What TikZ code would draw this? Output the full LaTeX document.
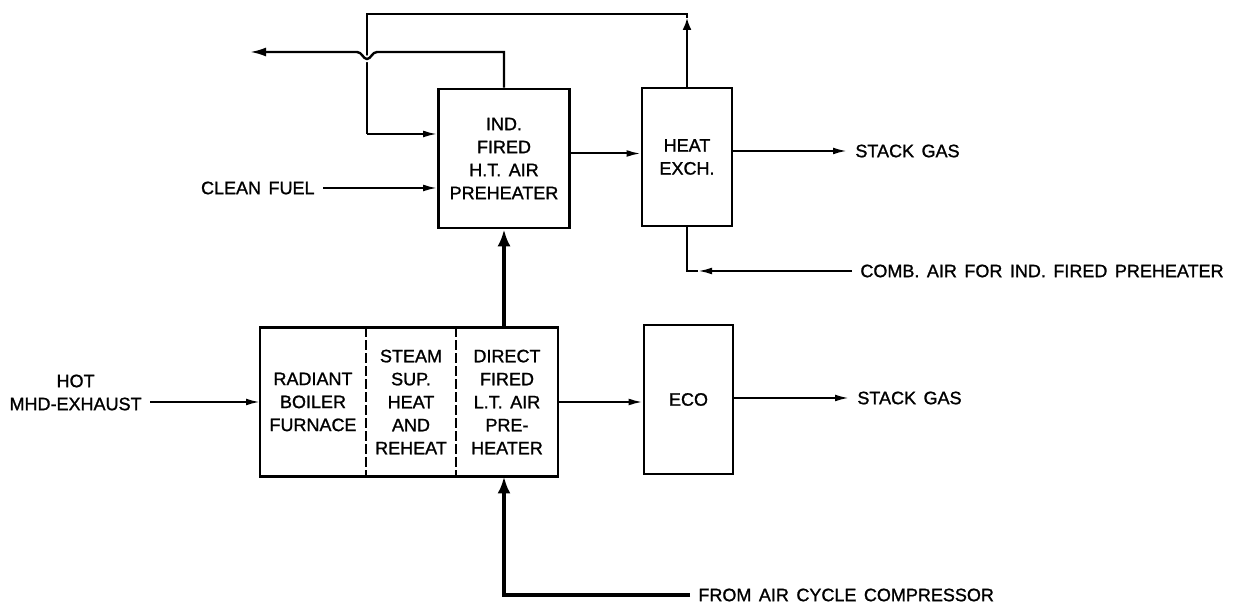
\documentclass[tikz,border=0pt]{standalone}
\usepackage{fontspec}
\setmainfont[WordSpace=1.5, FakeBold=1.2]{Liberation Sans}
\usetikzlibrary{positioning,arrows.meta,calc}

\begin{document}
\begin{tikzpicture}[
		x=0.5pt, y=-0.5pt,
		font=\fontsize{9}{11.5}\selectfont,
		box/.style={draw, line width=1.3pt, align=center, inner sep=0pt},
		part/.style={align=center, inner sep=0pt, outer sep=0pt,
				minimum height=74.5pt},
		lbl/.style={align=center, inner xsep=4pt, inner ysep=1pt},
		arr/.style={-{Latex[length=7pt,width=3.4pt]}, line width=1pt},
		bigarr/.style={-{Latex[length=8.5pt,width=6.5pt]}, line width=1.7pt},
		uparr/.style={-{Latex[length=6pt,width=4.5pt]}, line width=1pt},
		divider/.style={dash pattern=on 5pt off 1.5pt, line width=1pt}
		]
		\useasboundingbox (0,0) rectangle (1247,603);
		% upper row
		\node[box, minimum width=65.5pt, minimum height=69.5pt] (htap) at (504,158.5)
		{IND.\\FIRED\\H.T.\ AIR\\PREHEATER};
		\node[box, minimum width=45pt, minimum height=69pt] (hx) at (687,157)
		{HEAT\\EXCH.};
		% lower row
		\node[part, minimum width=53pt] (rad) at (313,402)
		{RADIANT\\BOILER\\FURNACE};
		\node[part, minimum width=45pt, right=0pt of rad] (ssh)
		{STEAM\\SUP.\\HEAT\\AND\\REHEAT};
		\node[part, minimum width=51pt, right=0pt of ssh] (dfp)
		{DIRECT\\FIRED\\L.T.\ AIR\\PRE-\\HEATER};
		\draw[line width=1.3pt] (rad.north west) rectangle (dfp.south east);
		\draw[divider] (rad.north east) -- (rad.south east);
		\draw[divider] (ssh.north east) -- (ssh.south east);
		\node[box, minimum width=44.5pt, minimum height=74.5pt] (eco) at (688.5,399.5)
		{ECO};
		% labels
		\node[lbl, anchor=east] (fuel) at (323,188) {CLEAN FUEL};
		\node[lbl, anchor=east] (hot) at (150,392.5) {HOT\\MHD-EXHAUST};
		\node[lbl, anchor=west] (stack1) at (847,151) {STACK GAS};
		\node[lbl, anchor=west] (comb) at (852,271)
		{COMB. AIR FOR IND. FIRED PREHEATER};
		\node[lbl, anchor=west] (stack2) at (849,398) {STACK GAS};
		\node[lbl, anchor=west] (comp) at (690,595) {FROM AIR CYCLE COMPRESSOR};
		% combustion gas loop back into the preheater
		\coordinate (loopL) at (367,14);
		\coordinate (loopR) at (loopL -| hx.north);
		\coordinate (loopD) at (367,134);
		\draw[uparr] (hx.north) -- ([yshift=-2pt]loopR);
		\draw[line width=1pt] ([yshift=-2pt]loopR) -- (loopR) -- (loopL) -- (loopD);
		\draw[arr] (loopD) -- (loopD -| htap.west);
		% hot air out, hopping over the loop
		\coordinate (exh) at (250,52);
		\draw[-{Latex[length=8pt,width=4.5pt]}, line width=1.2pt,
			preaction={draw=white, line width=3pt, -}]
		(htap.north) -- (htap.north |- exh) -- (377,52)
		.. controls (372,52) and (371,59) .. (367,59)
		.. controls (363,59) and (362,52) .. (357,52) -- (exh);
		\draw[arr] (fuel.east) -- (fuel.east -| htap.west);
		\draw[arr] ([yshift=2.5pt]htap.east) -- ([yshift=2.5pt]htap.east -| hx.west);
		\draw[arr] (hx.east |- stack1.west) -- (stack1.west);
		\coordinate (combturn) at (hx.south |- comb.west);
		\draw[arr] (comb.west) -- ([xshift=5.5pt]combturn);
		\draw[line width=1pt] ([xshift=5.5pt]combturn) -- (combturn) -- (hx.south);
		% lower path
		\draw[arr] (hot.east |- rad.west) -- (rad.west);
		\draw[bigarr] (dfp.north -| htap.south) -- (htap.south);
		\draw[bigarr] (comp.west) -| (htap.south |- dfp.south);
		\draw[arr] (dfp.east) -- (dfp.east -| eco.west);
		\draw[arr] (eco.east |- stack2.west) -- (stack2.west);
	\end{tikzpicture}
\end{document}
